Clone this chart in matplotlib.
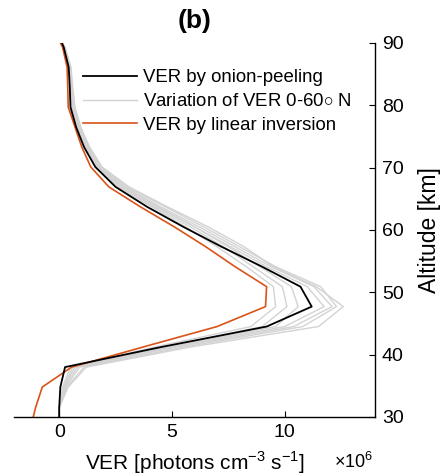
import matplotlib
matplotlib.use("Agg")
import matplotlib.pyplot as plt

plt.rcParams['font.family'] = ['Liberation Sans', 'DejaVu Sans']
plt.rcParams['mathtext.fontset'] = 'custom'
plt.rcParams['mathtext.rm'] = 'Liberation Sans'

# altitude grid [km]
alt = [30, 31.5, 34.8, 38.0, 41.2, 44.5, 47.7, 50.9, 54.1, 57.3, 60.5,
       63.7, 66.9, 70.1, 73.3, 76.5, 79.7, 82.9, 86.1, 89.3, 90]

# VER [x1e6 photons cm-3 s-1]
ver_onion = [0.0, 0.0, 0.05, 0.26, 4.5, 9.2, 11.2, 10.7, 9.0, 7.2, 5.5,
             3.9, 2.5, 1.6, 1.1, 0.75, 0.5, 0.47, 0.42, 0.2, 0.12]
ver_linear = [-1.15, -1.05, -0.75, 0.55, 3.7, 7.0, 9.15, 9.2, 7.8, 6.5, 5.1,
              3.6, 2.2, 1.4, 1.0, 0.7, 0.4, 0.38, 0.35, 0.15, 0.05]

# variation of VER 0-60 N
ver_var = [
    [0, 0, 0.15, 0.5, 4.2, 8.5, 9.6, 9.5, 8.3, 7.0, 5.6, 4.1, 2.6, 1.65, 1.15, 0.8, 0.55, 0.5, 0.44, 0.22, 0.12],
    [0, 0, 0.2, 0.7, 4.6, 9.0, 10.1, 9.9, 8.6, 7.3, 5.8, 4.2, 2.7, 1.7, 1.2, 0.85, 0.6, 0.52, 0.46, 0.23, 0.12],
    [0, 0, 0.3, 0.9, 5.0, 10.0, 11.75, 11.0, 9.2, 7.6, 6.0, 4.4, 2.8, 1.75, 1.25, 0.9, 0.62, 0.55, 0.48, 0.24, 0.12],
    [0, 0, 0.25, 0.8, 5.2, 10.4, 12.1, 11.3, 9.4, 7.8, 6.2, 4.5, 2.9, 1.8, 1.3, 0.92, 0.65, 0.56, 0.5, 0.25, 0.12],
    [0, 0, 0.35, 1.1, 5.5, 10.8, 12.3, 11.6, 9.6, 8.0, 6.4, 4.7, 3.0, 1.85, 1.3, 0.95, 0.68, 0.58, 0.5, 0.25, 0.12],
    [0, 0, 0.4, 1.2, 5.8, 11.5, 12.6, 11.4, 9.5, 8.2, 6.6, 4.8, 3.1, 1.9, 1.35, 0.95, 0.7, 0.6, 0.52, 0.26, 0.12],
    [0, 0, 0.2, 0.6, 4.8, 9.6, 10.6, 10.3, 8.9, 7.5, 6.0, 4.3, 2.8, 1.75, 1.2, 0.88, 0.6, 0.53, 0.47, 0.24, 0.12],
]

GRAY = '#d3d3d3'
ORANGE = '#D95319'

fig = plt.figure(figsize=(4.41, 4.76), dpi=100)
ax = fig.add_axes([0.032, 0.124, 0.818, 0.786])

for i, v in enumerate(ver_var):
    ax.plot(v, alt, color=GRAY, lw=1.0, zorder=1,
            label='Variation of VER 0-60$\\circ$ N' if i == 0 else None)
ax.plot(ver_linear, alt, color=ORANGE, lw=1.2, zorder=2,
        label='VER by linear inversion')
ax.plot(ver_onion, alt, color='black', lw=1.3, zorder=3,
        label='VER by onion-peeling')

ax.set_xlim(-2, 14)
ax.set_ylim(30, 90)
ax.set_xticks([0, 5, 10])
ax.set_yticks(range(30, 91, 10))

ax.spines['top'].set_visible(False)
ax.spines['left'].set_visible(False)
ax.yaxis.tick_right()
ax.yaxis.set_label_position('right')
ax.tick_params(direction='in', length=4, width=0.8, labelsize=14, pad=5)
ax.spines['bottom'].set_linewidth(1.0)
ax.spines['right'].set_linewidth(1.0)

ax.set_ylabel('Altitude [km]', fontsize=16.5, labelpad=10)
ax.set_xlabel('VER [photons cm$^{-3}$ s$^{-1}$]', fontsize=15, labelpad=6)
ax.text(0.94, -0.12, '$\\times$10$^6$', transform=ax.transAxes,
        ha='center', va='center', fontsize=13)

ax.set_title('(b)', fontsize=19, fontweight='bold', pad=11)

h, l = ax.get_legend_handles_labels()
order = [2, 0, 1]
ax.legend([h[k] for k in order], [l[k] for k in order], loc='upper left',
          bbox_to_anchor=(0.19, 0.929), frameon=False, fontsize=13.4,
          handlelength=2.9, handletextpad=0.35, labelspacing=0.36,
          borderpad=0, borderaxespad=0)

fig.savefig('out.png', dpi=100)
